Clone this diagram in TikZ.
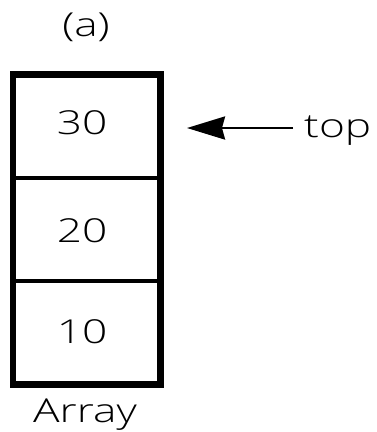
\documentclass[tikz,border=0pt]{standalone}
\usepackage{fontspec}
\newfontfamily\lbl[FakeStretch=1.34]{Open Sans Light}
\usetikzlibrary{arrows.meta}
\begin{document}
\begin{tikzpicture}[x=1pt,y=-1pt,
  cell/.style={draw=black,line width=4pt,minimum width=145pt,minimum height=102.5pt,inner sep=0pt,anchor=north west},
  txt/.style={inner sep=0pt,font=\lbl\fontsize{33}{39}\selectfont},
  arr/.style={line width=2.5pt,-{Stealth[length=38pt,width=23pt,inset=3pt]}}]
\useasboundingbox (0,0) rectangle (376,432);
\fill[white] (0,0) rectangle (376,432);
\node[cell] (c30) at (12,73.5) {};
\node[cell] (c20) at (12,176) {};
\node[cell] (c10) at (12,278.5) {};
\draw[line width=5pt] (c30.north west) rectangle (c10.south east);
\node[txt,anchor=base] (v30) at (82,134) {30};
\node[txt,anchor=base] (v20) at (82,242) {20};
\node[txt,anchor=base] (v10) at (82,343) {10};
\node[txt,anchor=base] (lbla) at (86,36) {(a)};
\node[txt,anchor=base] (lblarr) at (85,422) {Array};
\node[txt,anchor=base west] (lbltop) at (304,137) {top};
\coordinate (tail) at (293,128);
\coordinate (tip) at (187,128);
\draw[arr] (tail) -- (tip);
\end{tikzpicture}
\end{document}
